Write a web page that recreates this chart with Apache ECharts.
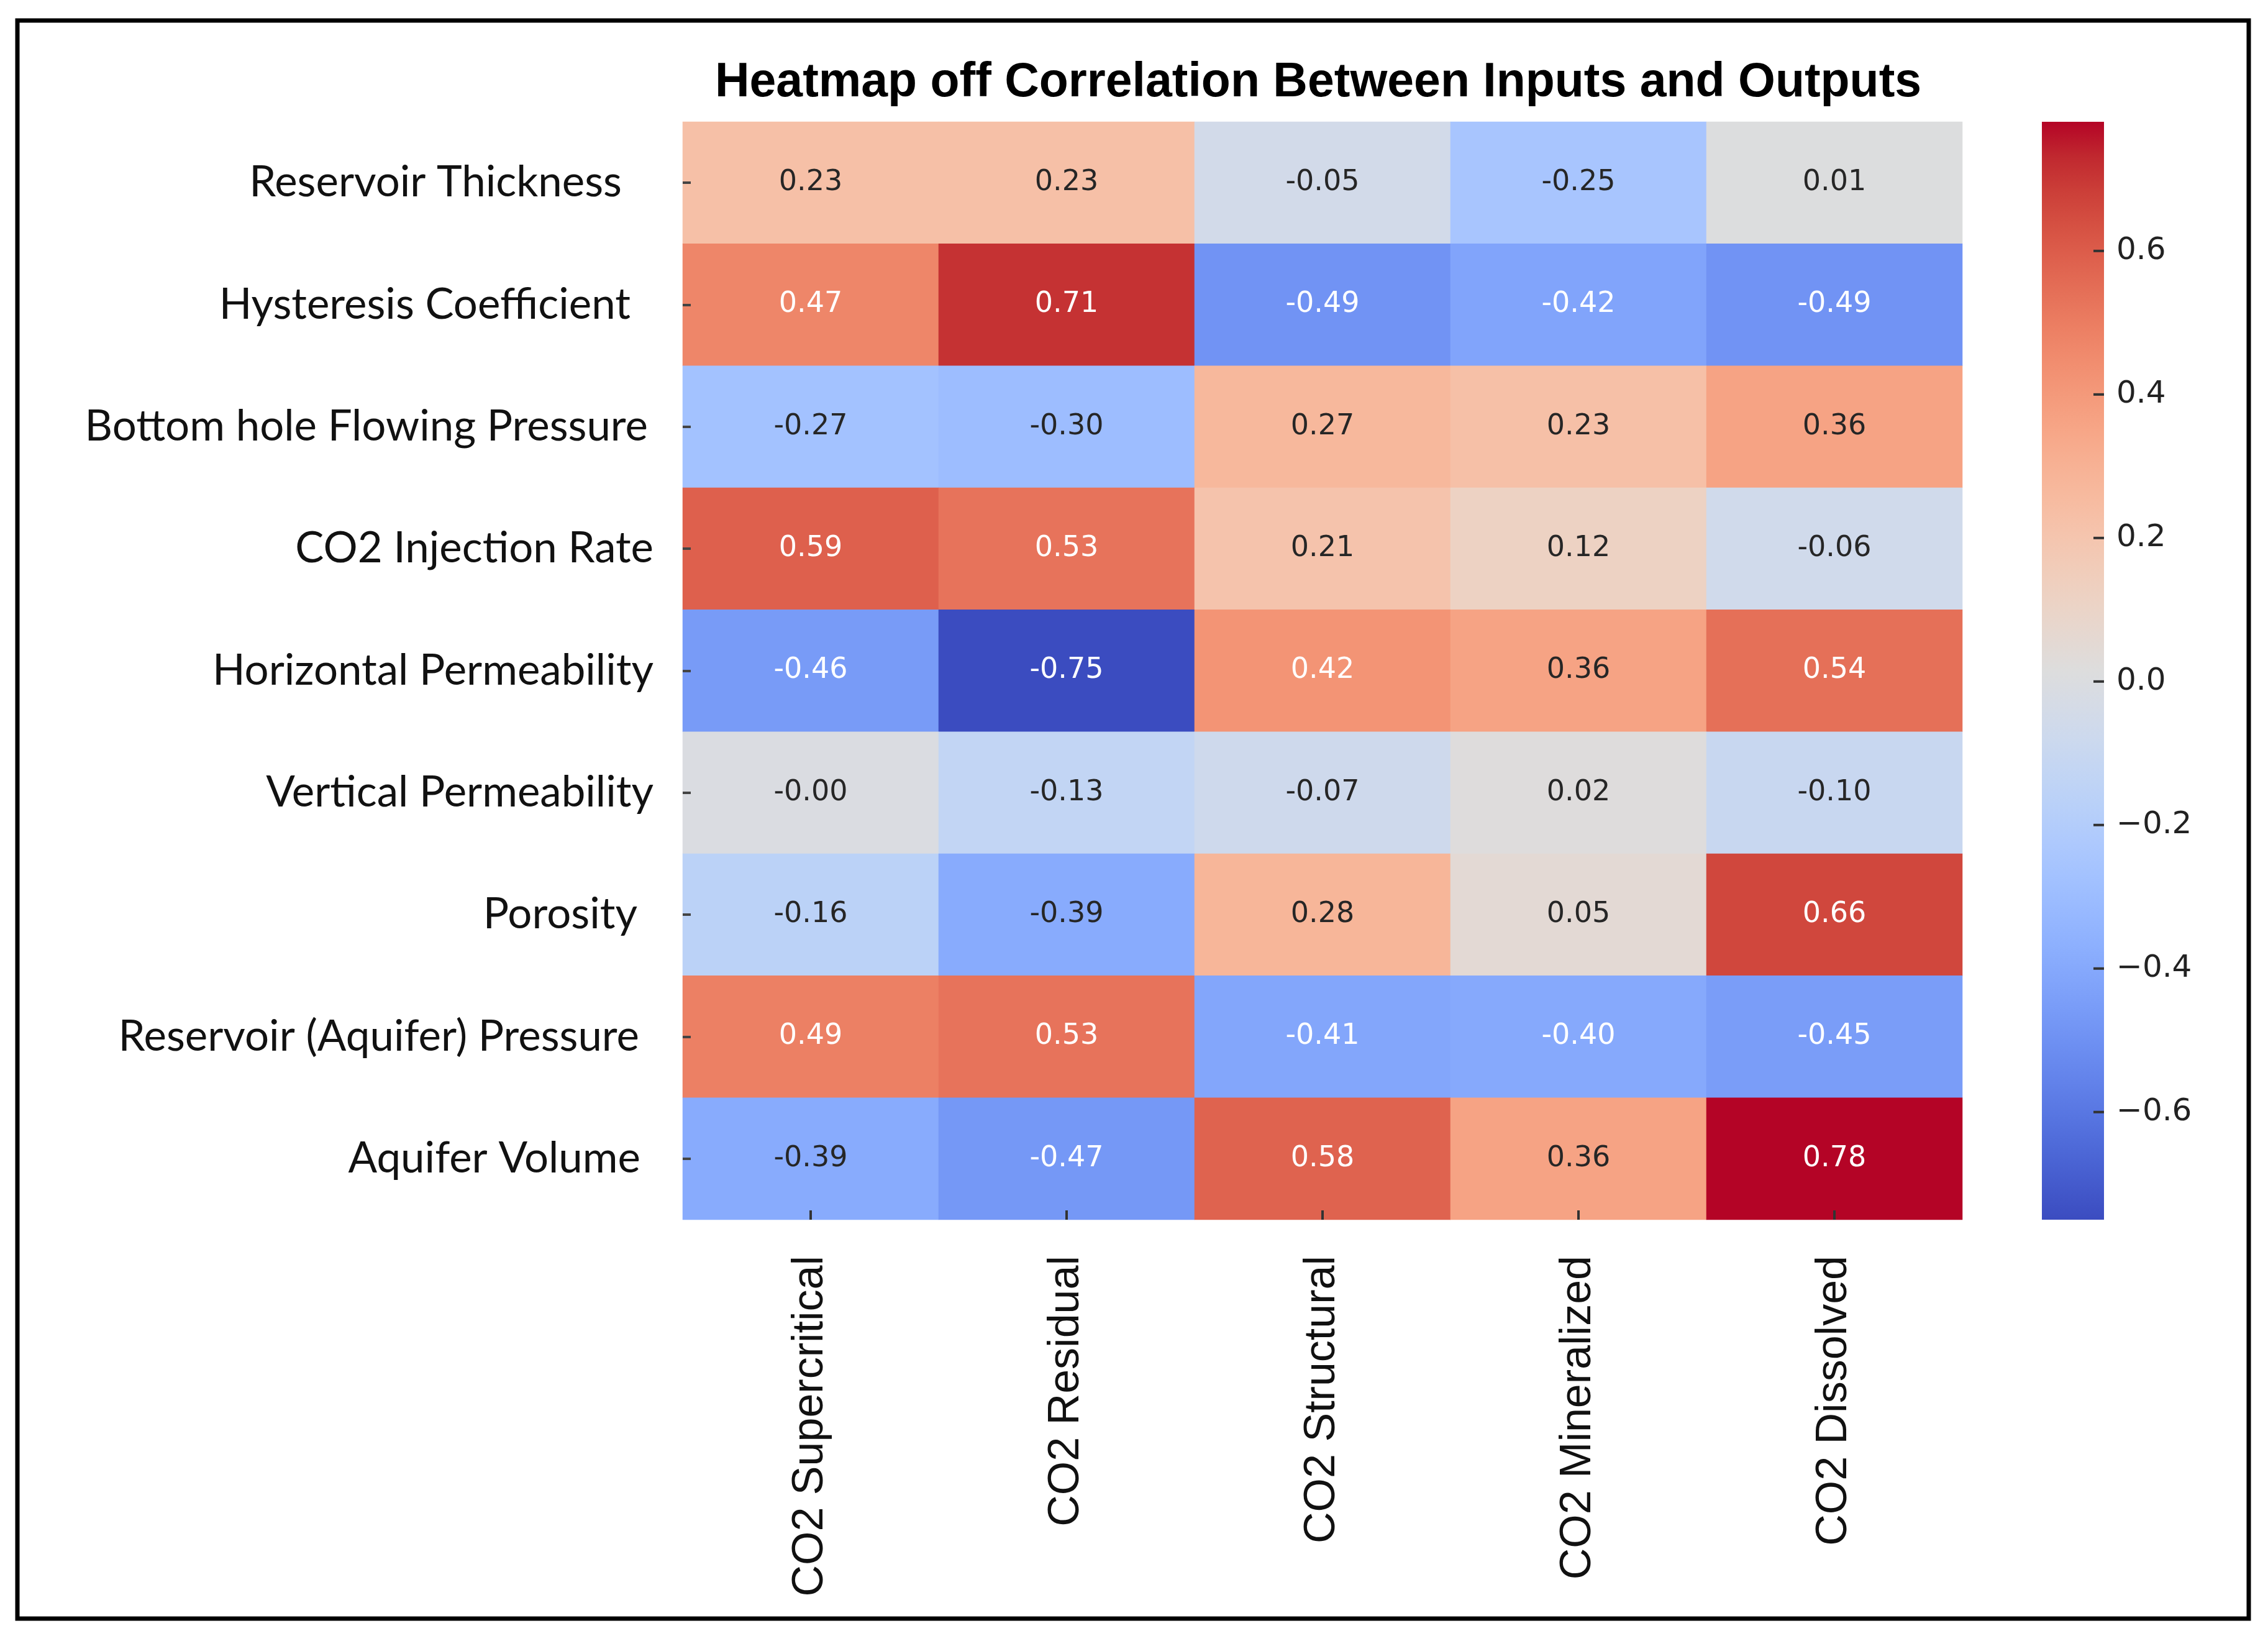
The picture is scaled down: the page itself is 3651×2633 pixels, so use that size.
<!DOCTYPE html>
<html>
<head>
<meta charset="utf-8">
<script src="https://cdn.jsdelivr.net/npm/echarts@6/dist/echarts.min.js"></script>
<style>
html,body{margin:0;padding:0;background:#fff;}
#chart{width:3651px;height:2633px;}
</style>
</head>
<body>
<div id="chart"></div>
<script>
// ---- data ----
const inputs = [
  'Reservoir Thickness',
  'Hysteresis Coefficient',
  'Bottom hole Flowing Pressure',
  'CO2 Injection Rate',
  'Horizontal Permeability',
  'Vertical Permeability',
  'Porosity',
  'Reservoir (Aquifer) Pressure',
  'Aquifer Volume'
];
const outputs = ['CO2 Supercritical', 'CO2 Residual', 'CO2 Structural', 'CO2 Mineralized', 'CO2 Dissolved'];

const corrReservoirThickness     = [0.23, 0.23, -0.05, -0.25, 0.01];
const corrHysteresisCoefficient  = [0.47, 0.71, -0.49, -0.42, -0.49];
const corrBottomHolePressure     = [-0.27, -0.30, 0.27, 0.23, 0.36];
const corrCO2InjectionRate       = [0.59, 0.53, 0.21, 0.12, -0.06];
const corrHorizontalPermeability = [-0.46, -0.75, 0.42, 0.36, 0.54];
const corrVerticalPermeability   = [-0.004, -0.13, -0.07, 0.02, -0.10];
const corrPorosity               = [-0.16, -0.39, 0.28, 0.05, 0.66];
const corrReservoirPressure      = [0.49, 0.53, -0.41, -0.40, -0.45];
const corrAquiferVolume          = [-0.39, -0.47, 0.58, 0.36, 0.78];

const colorbarTicks = [-0.6, -0.4, -0.2, 0.0, 0.2, 0.4, 0.6];
const colorbarTickStep = 0.2;

const titleText = 'Heatmap off Correlation Between Inputs and Outputs';

// ---- styling (label right-edge offsets, px) ----
const rowLabelPad = [51, 37, 9, 0, 0, 0, 26, 23, 21];

// ---- build ----
const matrix = [
  corrReservoirThickness, corrHysteresisCoefficient, corrBottomHolePressure,
  corrCO2InjectionRate, corrHorizontalPermeability, corrVerticalPermeability,
  corrPorosity, corrReservoirPressure, corrAquiferVolume
];
let allVals = [];
matrix.forEach(r => allVals = allVals.concat(r));
const vMin = Math.min.apply(null, allVals);
const vMax = Math.max.apply(null, allVals);

// matplotlib "coolwarm" palette
const coolwarm = [
  [59,76,192],[68,90,204],[77,104,215],[87,117,225],[98,130,234],[108,142,241],
  [119,154,247],[130,165,251],[141,176,254],[152,185,255],[163,194,255],[174,201,253],
  [184,208,249],[194,213,244],[204,217,238],[213,219,230],[221,221,221],[229,216,209],
  [236,211,197],[241,204,185],[245,196,173],[247,187,160],[247,177,148],[247,166,135],
  [244,154,123],[241,141,111],[236,127,99],[229,112,88],[222,96,77],[213,80,66],
  [203,62,56],[192,40,47],[180,4,38]
].map(c => 'rgb(' + c.join(',') + ')');

const data = [];
matrix.forEach((row, i) => {
  row.forEach((v, j) => {
    data.push({
      value: [j, i, v],
      label: { color: Math.abs(v) >= 0.395 ? '#ffffff' : '#262626' }
    });
  });
});

const yCats = inputs.map((name, i) => ({
  value: name,
  textStyle: { padding: [0, rowLabelPad[i], 0, 0] }
}));

const chart = echarts.init(document.getElementById('chart'), null, { renderer: 'canvas' });

// colorbar geometry
const cb = { left: 3287, top: 196, width: 100, height: 1767 };
const cbTickLen = 17;
const tMin = colorbarTicks[0], tMax = colorbarTicks[colorbarTicks.length - 1];
const pxPerUnit = cb.height / (vMax - vMin);
const valueToBarY = v => cb.top + (vMax - v) * pxPerUnit;
const tickGridTop = valueToBarY(tMax);
const tickGridHeight = (tMax - tMin) * pxPerUnit;

// colour bar: same palette the visualMap uses, max at the top
const n = coolwarm.length;
const barStops = coolwarm.map((c, k) => ({ offset: 1 - k / (n - 1), color: c })).reverse();

const graphics = [
  {
    id: 'frame',
    type: 'rect',
    shape: { x: 28, y: 33, width: 3592, height: 2572 },
    style: { fill: 'none', stroke: '#000', lineWidth: 7 },
    z: 0, silent: true
  },
  {
    id: 'title',
    type: 'text',
    x: 2122, y: 134,
    style: {
      text: titleText,
      font: 'bold 77px "Liberation Sans", Arial, sans-serif',
      fill: '#000',
      align: 'center',
      verticalAlign: 'middle'
    },
    z: 10
  },
  {
    id: 'colorbar',
    type: 'rect',
    shape: { x: cb.left, y: cb.top, width: cb.width, height: cb.height },
    style: { fill: new echarts.graphic.LinearGradient(0, 0, 0, 1, barStops) },
    z: 1, silent: true
  }
];
// colorbar tick marks along the bar's right edge, at the colour scale's tick values
const xRight = cb.left + cb.width;
colorbarTicks.forEach((v, k) => {
  const y = valueToBarY(v);
  graphics.push({
    id: 'cbtick' + k,
    type: 'rect',
    shape: { x: xRight - cbTickLen, y: y - 2, width: cbTickLen, height: 4 },
    style: { fill: '#333' },
    z: 100,
    silent: true
  });
});

const option = {
  backgroundColor: '#ffffff',
  animation: false,
  graphic: { elements: graphics },
  grid: [
    { left: 1099, top: 196, width: 2060, height: 1767 },
    { left: cb.left, top: tickGridTop, width: cb.width, height: tickGridHeight }
  ],
  xAxis: [
    {
      type: 'category',
      gridIndex: 0,
      data: outputs,
      axisLine: { show: false },
      splitLine: { show: false },
      axisTick: { show: true, inside: true, alignWithLabel: true, length: 15, lineStyle: { color: '#333', width: 4 } },
      axisLabel: {
        rotate: 90,
        margin: 58,
        fontFamily: '"Liberation Sans", Arial, sans-serif',
        fontSize: 70,
        color: '#111'
      },
      z: 10
    },
    { type: 'value', gridIndex: 1, show: false, min: 0, max: 1 }
  ],
  yAxis: [
    {
      type: 'category',
      gridIndex: 0,
      data: yCats,
      inverse: true,
      axisLine: { show: false },
      splitLine: { show: false },
      axisTick: { show: true, inside: true, alignWithLabel: true, length: 13, lineStyle: { color: '#444', width: 4 } },
      axisLabel: {
        margin: 47,
        fontFamily: 'Lato, "Noto Sans", sans-serif',
        fontSize: 69,
        color: '#111'
      },
      z: 10
    },
    {
      // colorbar scale + labels
      type: 'value',
      gridIndex: 1,
      min: tMin,
      max: tMax,
      interval: colorbarTickStep,
      position: 'right',
      axisLine: { show: false, onZero: false },
      splitLine: { show: false },
      axisTick: { show: false },
      axisLabel: {
        margin: 20,
        fontFamily: '"DejaVu Sans", sans-serif',
        fontSize: 50,
        color: '#222',
        formatter: v => (v < -1e-9 ? '\u2212' : '') + Math.abs(v).toFixed(1)
      },
      z: 10
    }
  ],
  visualMap: {
    type: 'continuous',
    show: false,
    min: vMin,
    max: vMax,
    seriesIndex: 0,
    inRange: { color: coolwarm }
  },
  series: [
    {
      type: 'heatmap',
      xAxisIndex: 0,
      yAxisIndex: 0,
      data: data,
      label: {
        show: true,
        fontFamily: '"DejaVu Sans", sans-serif',
        fontSize: 46,
        formatter: p => p.value[2].toFixed(2)
      },
      itemStyle: { borderWidth: 0 },
      emphasis: { disabled: true }
    }
  ]
};
chart.setOption(option);
</script>
</body>
</html>
